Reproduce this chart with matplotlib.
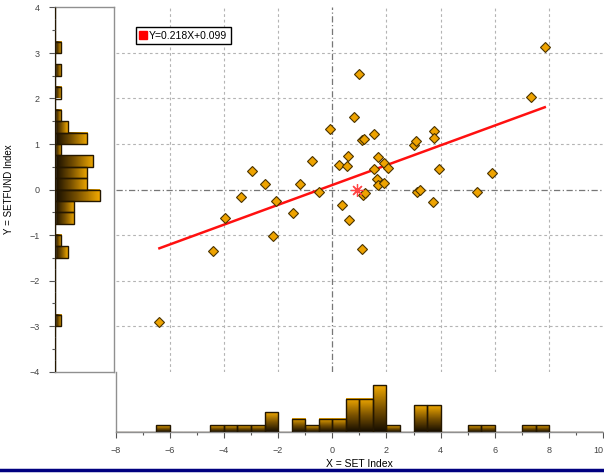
import numpy as np
import matplotlib
matplotlib.use("Agg")
import matplotlib.pyplot as plt
from matplotlib.colors import LinearSegmentedColormap
from matplotlib.lines import Line2D

plt.rcParams['font.family'] = ['Liberation Sans', 'DejaVu Sans']

# X = SET Index, Y = SETFUND Index
x_vals = [0.99, 0.81, -0.08, 1.55, 1.08, 1.17, 3.00, 3.08, 3.75, 3.75,
          -0.76, 0.59, 0.26, 0.53, 1.70, 1.92, 2.04, 1.55, 3.95, 1.66,
          -1.19, -0.48, -1.46, 1.70, 1.91, 1.14, 0.37, 0.62, 1.11, 3.11,
          3.24, 3.70, -2.96, -2.48, -3.38, -2.09, -3.96, -2.20, -4.41, -6.38,
          7.84, 7.32, 5.88, 5.33, 1.22]
y_vals = [2.54, 1.59, 1.33, 1.23, 1.09, 1.12, 0.98, 1.06, 1.29, 1.14,
          0.63, 0.74, 0.54, 0.51, 0.71, 0.58, 0.47, 0.45, 0.44, 0.24,
          0.11, -0.05, -0.52, 0.10, 0.15, -0.12, -0.34, -0.68, -1.31, -0.05,
          -0.01, -0.27, 0.41, 0.12, -0.17, -0.26, -0.63, -1.02, -1.35, -2.91,
          3.14, 2.04, 0.37, -0.05, -0.08]
slope = 0.218
intercept = 0.099
star_x = [0.9]
star_y = [0.0]

x_ticks = [-8, -6, -4, -2, 0, 2, 4, 6, 8, 10]
y_ticks = [-4, -3, -2, -1, 0, 1, 2, 3, 4]

x = np.array(x_vals)
y = np.array(y_vals)

W, H = 604, 473
fig = plt.figure(figsize=(W / 100, H / 100), dpi=100)

def px_box(l, t, r, b):
    return [l / W, 1 - b / H, (r - l) / W, (b - t) / H]

ax_main = fig.add_axes(px_box(115.5, 7.5, 603.3, 371.5))
ax_left = fig.add_axes(px_box(55, 7.5, 114, 371.5))
ax_bot = fig.add_axes(px_box(115.5, 371.5, 603.3, 432))

cm = LinearSegmentedColormap.from_list('bar', ['#140c00', '#7a5200', '#f0a800'])
edge = '#241700'
tcol = '#444444'

# main scatter
ax_main.set_xlim(-8, 10)
ax_main.set_ylim(-4, 4)
for s in ax_main.spines.values():
    s.set_visible(False)
ax_main.set_xticks([t for t in x_ticks if -8 < t < 10 and t != 0])
ax_main.set_yticks([t for t in y_ticks if -4 < t < 4 and t != 0])
ax_main.tick_params(length=0, labelbottom=False, labelleft=False)
ax_main.grid(True, color='#b4b4b4', linestyle=(0, (2.5, 2.5)), linewidth=0.8)
ax_main.axhline(0, color='#777777', linestyle=(0, (5, 2, 1, 2)), linewidth=0.9)
ax_main.axvline(0, color='#777777', linestyle=(0, (5, 2, 1, 2)), linewidth=0.9)

lx = np.array([x.min(), x.max()])
ax_main.plot(lx, slope * lx + intercept, color='#ff1010', linewidth=1.8, zorder=3)
ax_main.plot(x, y, linestyle='none', marker='D', markersize=5,
             markerfacecolor='#eea300', markeredgecolor='#4a3300',
             markeredgewidth=0.8, zorder=4)
ax_main.plot(star_x, star_y, linestyle='none', marker=(8, 2, 0), markersize=9,
             color='#ff4545', markeredgewidth=0.9, zorder=5)

handle = Line2D([], [], linestyle='none', marker='s', markersize=6,
                color='#ff0000')
leg = ax_main.legend([handle], ['Y=%.3fX+%.3f' % (slope, intercept)],
                     loc='upper left', bbox_to_anchor=(0.042, 0.946),
                     borderaxespad=0, fontsize=7.5, handlelength=0.7,
                     handletextpad=0.2, borderpad=0.35, fancybox=False,
                     framealpha=1)
leg.get_frame().set_edgecolor('black')
leg.get_frame().set_linewidth(1.0)

# bottom histogram of X
xedges = np.arange(-8, 10.01, 0.5)
xc, _ = np.histogram(x, bins=xedges)
grad_v = np.linspace(0, 1, 64).reshape(-1, 1)
for e0, c in zip(xedges[:-1], xc):
    if c > 0:
        ax_bot.imshow(grad_v, cmap=cm, extent=(e0, e0 + 0.5, 0, c),
                      aspect='auto', origin='lower', zorder=2)
ax_bot.bar(xedges[:-1], xc, width=0.5, align='edge', fill=False,
           edgecolor=edge, linewidth=1.0, zorder=3)
ax_bot.set_xlim(-8, 10)
ax_bot.set_ylim(0, 9.1)
ax_bot.spines['top'].set_visible(False)
ax_bot.spines['right'].set_visible(False)
for s in ['left', 'bottom']:
    ax_bot.spines[s].set_color('#909090')
    ax_bot.spines[s].set_linewidth(1.0)
ax_bot.set_yticks([])
ax_bot.set_xticks(x_ticks)
ax_bot.set_xticks(np.arange(-7, 10, 2), minor=True)
ax_bot.tick_params(axis='x', which='major', length=4, width=0.8, color='#555555',
                   labelsize=6.5, labelcolor=tcol, pad=6)
ax_bot.tick_params(axis='x', which='minor', length=2, width=0.8, color='#555555')
ax_bot.get_xticklabels()[-1].set_horizontalalignment('right')
ax_bot.set_xlabel('X = SET Index', fontsize=7.5, labelpad=3)

# left histogram of Y
yedges = np.arange(-4, 4.01, 0.25)
yc, _ = np.histogram(y, bins=yedges)
grad_h = np.linspace(0, 1, 64).reshape(1, -1)
for e0, c in zip(yedges[:-1], yc):
    if c > 0:
        ax_left.imshow(grad_h, cmap=cm, extent=(0, c, e0, e0 + 0.25),
                       aspect='auto', origin='lower', zorder=2)
ax_left.barh(yedges[:-1], yc, height=0.25, align='edge', fill=False,
             edgecolor=edge, linewidth=1.0, zorder=3)
ax_left.set_xlim(0, 9.2)
ax_left.set_ylim(-4, 4)
for s in ax_left.spines.values():
    s.set_color('#909090')
    s.set_linewidth(1.0)
ax_left.set_xticks([])
ax_left.set_yticks(y_ticks)
ax_left.set_yticks(np.arange(-3.5, 4, 1), minor=True)
ax_left.tick_params(axis='y', which='major', length=4, width=0.8, color='#555555',
                    labelsize=6.5, labelcolor=tcol, pad=7)
ax_left.tick_params(axis='y', which='minor', length=2, width=0.8, color='#555555')
ax_left.set_ylabel('Y = SETFUND Index', fontsize=7, labelpad=11)

# navy rule at the bottom
fig.add_artist(Line2D([0, 1], [0.0055, 0.0055], transform=fig.transFigure,
                      color='#000080', linewidth=2.5))

fig.savefig('out.png', dpi=100)
